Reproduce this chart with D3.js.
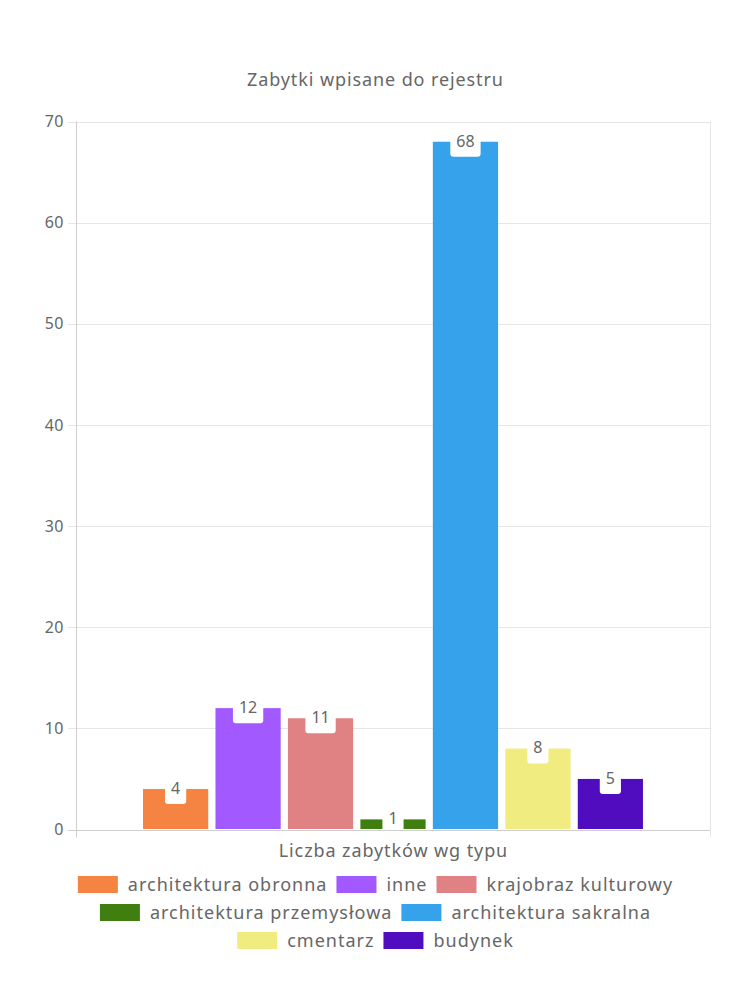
<!DOCTYPE html>
<html><head><meta charset="utf-8">
<script src="https://cdn.jsdelivr.net/npm/d3@7"></script>
<style>body{margin:0;background:#fff}svg{display:block}</style>
</head><body>
<script>
const categories = ["architektura obronna","inne","krajobraz kulturowy","architektura przemysłowa","architektura sakralna","cmentarz","budynek"];
const values = [4,12,11,1,68,8,5];
const colors = ["#F58442","#A259FF","#E08283","#3F7F10","#36A2EB","#F0EC80","#500DC0"];
const yTicks = [0,10,20,30,40,50,60,70];
const title = "Zabytki wpisane do rejestru";
const xTitle = "Liczba zabytków wg typu";

(function(){
const W=750,H=1000;
const FONT="'Noto Sans', sans-serif";
const TXT="#666";
const svg=d3.select("body").append("svg").attr("width",W).attr("height",H);
const pL=76,pR=710,pT=121.5,pB=829.5;

const y=d3.scaleLinear().domain([0,70]).range([pB,pT]);
const catW=(pR-pL)*0.8, catX=pL+(pR-pL)*0.1;
const xb=d3.scaleBand().domain(categories).range([catX,catX+catW]).paddingInner(0.1).paddingOuter(0.05);

svg.append("g").selectAll("line").data(yTicks).join("line")
 .attr("x1",pL-8).attr("x2",pR).attr("y1",d=>Math.round(y(d))+0.5).attr("y2",d=>Math.round(y(d))+0.5)
 .attr("stroke",d=>d===0?"#cfcfcf":"#e6e6e6");
svg.append("line").attr("x1",pL+0.5).attr("x2",pL+0.5).attr("y1",pT).attr("y2",pB+8).attr("stroke","#cfcfcf");
svg.append("line").attr("x1",pR+0.5).attr("x2",pR+0.5).attr("y1",pT).attr("y2",pB+8).attr("stroke","#e6e6e6");

svg.append("g").selectAll("text").data(yTicks).join("text")
 .attr("x",64).attr("y",d=>y(d)).attr("dy","0.35em").attr("text-anchor","end")
 .attr("font-family",FONT).attr("font-size",16).attr("letter-spacing",0.5).attr("fill",TXT).text(d=>d);

svg.append("g").selectAll("rect").data(values).join("rect")
 .attr("x",(d,i)=>xb(categories[i])).attr("width",xb.bandwidth())
 .attr("y",d=>y(d)).attr("height",d=>pB-0.5-y(d)).attr("fill",(d,i)=>colors[i]);

svg.append("clipPath").attr("id","clip").append("rect").attr("x",pL).attr("y",pT-10).attr("width",pR-pL).attr("height",pB-0.5-pT+10);

const lg=svg.append("g");
values.forEach((v,i)=>{
  const cx=xb(categories[i])+xb.bandwidth()/2, ty=y(v);
  const t=lg.append("text").attr("x",cx).attr("y",ty).attr("dy","0.3em").attr("text-anchor","middle")
   .attr("font-family",FONT).attr("font-size",16).attr("fill",TXT).text(v);
  const w=t.node().getComputedTextLength()+12;
  lg.insert("rect","text").attr("x",cx-w/2).attr("y",ty-9).attr("width",w).attr("height",24)
   .attr("rx",3).attr("fill","#fff").attr("clip-path","url(#clip)");
});

function spaced(sel,size,ls){return sel.attr("font-family",FONT).attr("font-size",size).attr("letter-spacing",ls).attr("fill",TXT);}

const t1=spaced(svg.append("text").attr("y",80).attr("dy","0.35em").text(title),18,0.9);
t1.attr("x",W/2-t1.node().getComputedTextLength()/2+0.45);
const t2=spaced(svg.append("text").attr("y",851).attr("dy","0.35em").text(xTitle),18,0.9);
t2.attr("x",(pL+pR)/2-t2.node().getComputedTextLength()/2+0.45);

const rows=[[0,1,2],[3,4],[5,6]];
const rowY=[884.5,912.5,940.5];
rows.forEach((r,ri)=>{
  const g=svg.append("g");
  let x=0;
  r.forEach(i=>{
    g.append("rect").attr("x",x).attr("y",rowY[ri]-8.5).attr("width",40).attr("height",17).attr("fill",colors[i]);
    const t=spaced(g.append("text").attr("x",x+50).attr("y",rowY[ri]).attr("dy","0.35em").text(categories[i]),18,1);
    x+=50+t.node().getComputedTextLength()-1+10;
  });
  const tw=x-10;
  g.attr("transform",`translate(${(W-tw)/2},0)`);
});
})();
</script>
</body></html>
